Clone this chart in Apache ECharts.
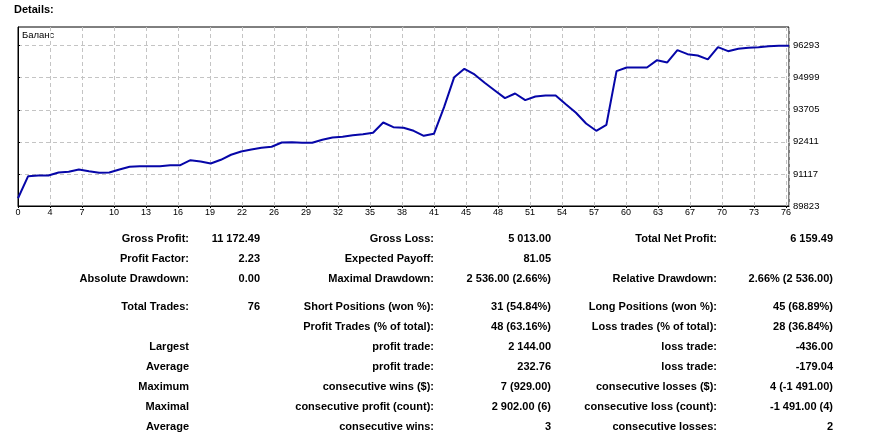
<!DOCTYPE html>
<html>
<head>
<meta charset="utf-8">
<script src="https://cdn.jsdelivr.net/npm/echarts@6/dist/echarts.min.js"></script>
<style>
  html, body { margin: 0; padding: 0; background: #fff; }
  #chart { width: 890px; height: 438px; }
</style>
</head>
<body>
<div id="chart"></div>
<script>
// balance after each trade (0 = initial deposit)
const balance = [
  90134, 91026, 91054, 91054, 91175, 91203, 91296, 91228, 91163, 91175,
  91296, 91405, 91430, 91430, 91430, 91470, 91470, 91672, 91619, 91538,
  91688, 91890, 92023, 92103, 92171, 92212, 92386, 92400, 92373, 92373,
  92494, 92588, 92616, 92680, 92720, 92777, 93193, 93003, 92979, 92858,
  92656, 92737, 93811, 95021, 95360, 95130, 94795, 94484, 94174, 94363,
  94093, 94242, 94283, 94283, 93932, 93584, 93153, 92858, 93100, 95264,
  95413, 95413, 95413, 95707, 95615, 96111, 95950, 95897, 95736, 96232,
  96070, 96167, 96208, 96232, 96272, 96293, 96293
];
const xTickLabels = ['0', '4', '7', '10', '13', '16', '19', '22', '26', '29', '32', '35', '38',
  '41', '45', '48', '51', '54', '57', '60', '63', '67', '70', '73', '76'];
const yTicks = [89823, 91117, 92411, 93705, 94999, 96293];

const statRows = [
  ['Gross Profit:', '11 172.49', 'Gross Loss:', '5 013.00', 'Total Net Profit:', '6 159.49'],
  ['Profit Factor:', '2.23', 'Expected Payoff:', '81.05', '', ''],
  ['Absolute Drawdown:', '0.00', 'Maximal Drawdown:', '2 536.00 (2.66%)', 'Relative Drawdown:', '2.66% (2 536.00)'],
  ['Total Trades:', '76', 'Short Positions (won %):', '31 (54.84%)', 'Long Positions (won %):', '45 (68.89%)'],
  ['', '', 'Profit Trades (% of total):', '48 (63.16%)', 'Loss trades (% of total):', '28 (36.84%)'],
  ['Largest', '', 'profit trade:', '2 144.00', 'loss trade:', '-436.00'],
  ['Average', '', 'profit trade:', '232.76', 'loss trade:', '-179.04'],
  ['Maximum', '', 'consecutive wins ($):', '7 (929.00)', 'consecutive losses ($):', '4 (-1 491.00)'],
  ['Maximal', '', 'consecutive profit (count):', '2 902.00 (6)', 'consecutive loss (count):', '-1 491.00 (4)'],
  ['Average', '', 'consecutive wins:', '3', 'consecutive losses:', '2']
];

// layout of the stats block
const rowY = [239, 259, 279, 307, 327, 347, 367, 387, 407, 427];
const colRight = [189, 260, 434, 551, 717, 833];

const xInterval = 76 * 32 / 771;
const textFont = '"Liberation Sans", Arial, sans-serif';

const graphics = [
  {
    type: 'text', left: 14, top: 4,
    style: { text: 'Details:', font: 'bold 11px ' + textFont, fill: '#000' }
  },
  {
    type: 'text', left: 22, top: 30,
    style: { text: 'Баланс', font: '9.5px ' + textFont, fill: '#000' }
  }
];
statRows.forEach((row, r) => {
  row.forEach((txt, c) => {
    if (!txt) return;
    graphics.push({
      type: 'text',
      x: colRight[c],
      y: rowY[r],
      style: {
        text: txt,
        font: 'bold 11px ' + textFont,
        fill: '#000',
        textAlign: 'right',
        textVerticalAlign: 'middle'
      }
    });
  });
});

const chart = echarts.init(document.getElementById('chart'));
chart.setOption({
  backgroundColor: '#fff',
  animation: false,
  grid: {
    left: 18, top: 27, width: 771, height: 179,
    show: true, borderColor: '#000', borderWidth: 1, backgroundColor: '#fff'
  },
  xAxis: {
    type: 'value',
    min: 0,
    max: 76,
    interval: xInterval,
    axisLine: { show: true, lineStyle: { color: '#000', width: 1 } },
    axisTick: { show: true, length: 2, lineStyle: { color: '#000' } },
    axisLabel: {
      color: '#000',
      fontSize: 9,
      fontFamily: 'Liberation Sans',
      margin: 2,
      showMaxLabel: false,
      formatter: (v) => xTickLabels[Math.round(v / xInterval)] || ''
    },
    splitLine: { show: true, lineStyle: { color: '#c4c4c4', type: [4, 3] } }
  },
  yAxis: {
    type: 'value',
    position: 'right',
    min: 89823,
    max: 97045,
    axisLine: { show: true, lineStyle: { color: '#000', width: 1 } },
    axisTick: { show: true, length: 2, customValues: yTicks, lineStyle: { color: '#000' } },
    axisLabel: {
      color: '#000',
      fontSize: 9.5,
      fontFamily: 'Liberation Sans',
      margin: 4,
      customValues: yTicks,
      formatter: (v) => String(v)
    },
    splitLine: { show: true, lineStyle: { color: '#c4c4c4', type: [4, 3] } }
  },
  series: [{
    type: 'line',
    data: balance.map((v, i) => [i, v]),
    symbol: 'none',
    lineStyle: { color: '#0606a8', width: 2 },
    silent: true
  }],
  graphic: graphics
});
</script>
</body>
</html>
